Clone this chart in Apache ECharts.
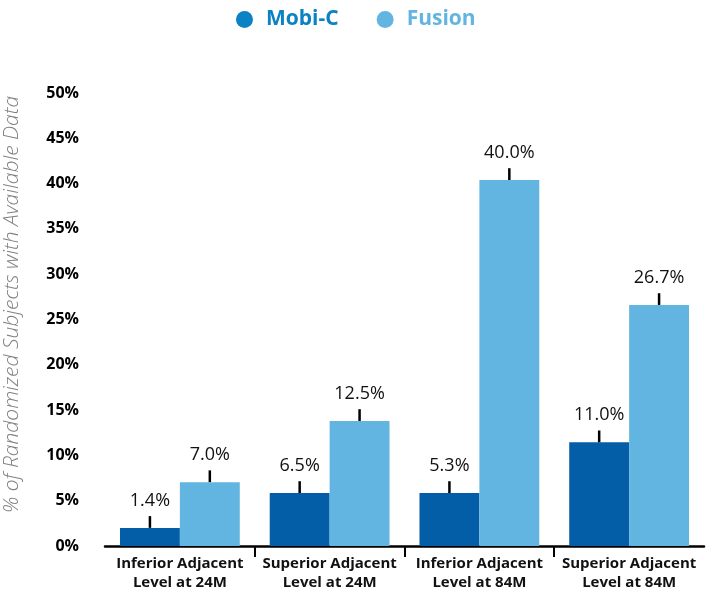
<!DOCTYPE html>
<html>
<head>
<meta charset="utf-8">
<script src="https://cdn.jsdelivr.net/npm/echarts@6/dist/echarts.min.js"></script>
<style>
html,body{margin:0;padding:0;background:#fff;}
#chart{width:715px;height:593px;}
</style>
</head>
<body>
<div id="chart"></div>
<script>
var categories = ['Inferior Adjacent\nLevel at 24M', 'Superior Adjacent\nLevel at 24M', 'Inferior Adjacent\nLevel at 84M', 'Superior Adjacent\nLevel at 84M'];
var mobiValues = [2.0, 5.85, 5.85, 11.45];
var fusionValues = [7.05, 13.8, 40.4, 26.6];
var mobiLabels = ['1.4%', '6.5%', '5.3%', '11.0%'];
var fusionLabels = ['7.0%', '12.5%', '40.0%', '26.7%'];
var mobiErrors = [1.3, 1.3, 1.3, 1.3];
var fusionErrors = [1.3, 1.3, 1.3, 1.3];
var yTicks = {min: 0, max: 50, interval: 5};
var dividerIndices = [1, 2, 3];

var FONT = '"Open Sans", "Liberation Sans", sans-serif';

function errorSeries(values, errors, side) {
  return {
    type: 'custom',
    silent: true,
    z: 3,
    data: values.map(function (v, i) { return [i, v, v + errors[i]]; }),
    renderItem: function (params, api) {
      var band = api.size([1, 0])[0];
      var off = side * band * 0.2;
      var p0 = api.coord([api.value(0), api.value(1)]);
      var p1 = api.coord([api.value(0), api.value(2)]);
      return {
        type: 'line',
        shape: {x1: p0[0] + off, y1: p0[1], x2: p1[0] + off, y2: p1[1]},
        style: {stroke: '#000', lineWidth: 2.5}
      };
    }
  };
}

var chart = echarts.init(document.getElementById('chart'), null, {renderer: 'canvas'});
chart.setOption({
  animation: false,
  textStyle: {fontFamily: FONT},
  legend: {
    top: 4,
    left: 231,
    icon: 'circle',
    itemWidth: 17,
    itemHeight: 17,
    itemGap: 38,
    textStyle: {fontSize: 21, fontWeight: 'bold', fontFamily: FONT, padding: [0, 0, 0, 8]},
    data: [
      {name: 'Mobi-C', itemStyle: {color: '#0a82c3'}, textStyle: {color: '#0a82c3'}},
      {name: 'Fusion', itemStyle: {color: '#62b5e1'}, textStyle: {color: '#62b5e1'}}
    ]
  },
  grid: {left: 105, right: 11, top: 93, bottom: 47, outerBoundsMode: 'none', containLabel: false},
  xAxis: {
    type: 'category',
    data: categories,
    axisLine: {lineStyle: {color: '#000', width: 2.5}},
    axisTick: {show: false},
    axisLabel: {interval: 0, color: '#111', fontSize: 15, fontWeight: 'bold', lineHeight: 19, margin: 8, fontFamily: FONT}
  },
  yAxis: {
    type: 'value',
    min: yTicks.min, max: yTicks.max, interval: yTicks.interval,
    name: '% of Randomized Subjects with Available Data',
    nameLocation: 'middle',
    nameGap: 82,
    nameTextStyle: {color: '#7f7f7f', fontSize: 21, fontStyle: 'italic', fontWeight: 300, fontFamily: FONT, padding: [0, 0, 0, 30]},
    axisLine: {show: false},
    axisTick: {show: false},
    splitLine: {show: false},
    axisLabel: {formatter: '{value}%', color: '#000', fontSize: 16, fontWeight: 'bold', margin: 26, fontFamily: FONT}
  },
  series: [
    {
      name: 'Mobi-C', type: 'bar', data: mobiValues,
      barGap: '0%', barCategoryGap: '20%',
      itemStyle: {color: '#045ea7'},
      label: {show: true, position: 'top', distance: 18, color: '#111', fontSize: 18, fontFamily: FONT,
        formatter: function (p) { return mobiLabels[p.dataIndex]; }}
    },
    {
      name: 'Fusion', type: 'bar', data: fusionValues,
      barGap: '0%', barCategoryGap: '20%',
      itemStyle: {color: '#62b5e1'},
      label: {show: true, position: 'top', distance: 18, color: '#111', fontSize: 18, fontFamily: FONT,
        formatter: function (p) { return fusionLabels[p.dataIndex]; }}
    },
    errorSeries(mobiValues, mobiErrors, -1),
    errorSeries(fusionValues, fusionErrors, 1),
    {
      type: 'custom',
      silent: true,
      clip: false,
      z: 4,
      data: dividerIndices.map(function (i) { return [i, 0]; }),
      renderItem: function (params, api) {
        var band = api.size([1, 0])[0];
        var p = api.coord([api.value(0), 0]);
        var x = Math.round(p[0] - band / 2);
        return {
          type: 'line',
          shape: {x1: x, y1: p[1], x2: x, y2: p[1] + 11},
          style: {stroke: '#000', lineWidth: 2}
        };
      }
    }
  ]
});
</script>
</body>
</html>
